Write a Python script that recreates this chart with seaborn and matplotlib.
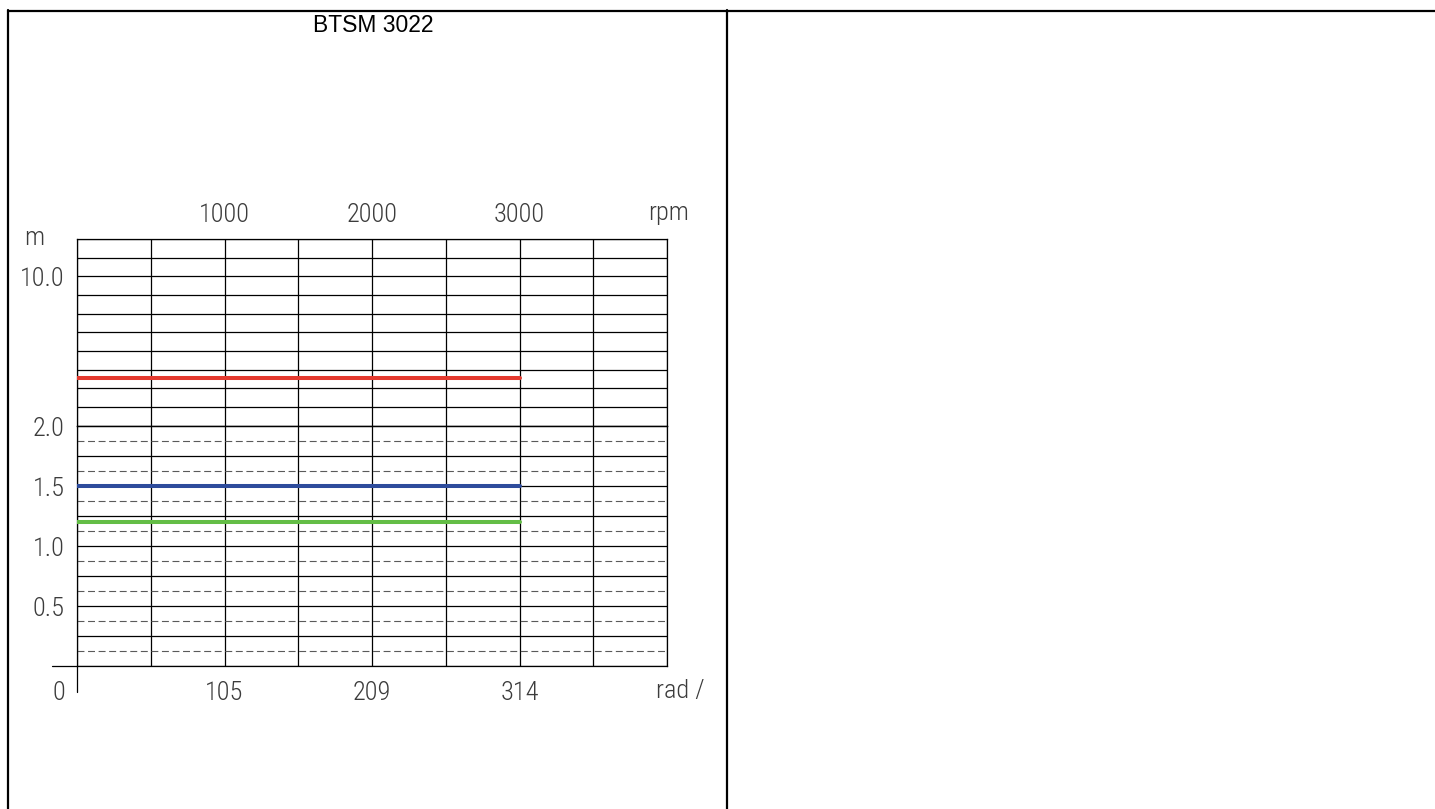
import matplotlib
matplotlib.use("Agg")
import matplotlib.pyplot as plt
from matplotlib.lines import Line2D
from matplotlib.ticker import MultipleLocator
import numpy as np
import pandas as pd
import seaborn as sns

# ---- data -------------------------------------------------------------
title = "BTSM 3022"
curve_names = ["peak", "rated", "continuous"]
curve_torque = [4.55, 1.5, 1.2]          # torque, N·m
curve_speed = [0, 3000]                  # speed range, rpm
rpm_ticks = [1000, 2000, 3000]
rpm_labels = ["1000", "2000", "3000"]
rad_labels = ["105", "209", "314"]
low_tick_vals = [0.5, 1.0, 1.5, 2.0]
low_tick_labels = ["0.5", "1.0", "1.5", "2.0"]
high_tick_vals = [10.0]
high_tick_labels = ["10.0"]

# ---- style ------------------------------------------------------------
W, H, DPI = 1435, 809, 100
curve_colors = {"peak": "#e4392e", "rated": "#2e4c9c", "continuous": "#63bd46"}
sns.set_style("white")
plt.rcParams["font.family"] = ["Liberation Sans", "DejaVu Sans"]
plt.rcParams["lines.scale_dashes"] = False
label_kw = dict(fontsize=19, color="#3c3c3c", fontweight="light",
                family=["Roboto Condensed", "DejaVu Sans Condensed", "Roboto"])

fig = plt.figure(figsize=(W / DPI, H / DPI), dpi=DPI)


def fx(px):
    return px / W


def fy(py):
    return 1 - py / H


# plot frame in pixels
x0, x1 = 77, 667
y_top, y_split, y_bot = 239, 425.7, 665.7

ax_hi = fig.add_axes([fx(x0), fy(y_split), fx(x1) - fx(x0), fy(y_top) - fy(y_split)])
ax_lo = fig.add_axes([fx(x0), fy(y_bot), fx(x1) - fx(x0), fy(y_split) - fy(y_bot)])

df = pd.DataFrame(
    [(n, s, t) for n, t in zip(curve_names, curve_torque) for s in curve_speed],
    columns=["curve", "speed", "torque"],
)

for ax in (ax_hi, ax_lo):
    ax.set_xlim(0, 4000)
    ax.xaxis.set_major_locator(MultipleLocator(500))
    ax.grid(True, axis="x", which="major", color="black", lw=0.9, ls="-")
    ax.tick_params(length=0, labelbottom=False, labelleft=False)
    for sp in ax.spines.values():
        sp.set_color("black")
        sp.set_linewidth(0.9)
    ax.set_axisbelow(True)
    sns.lineplot(data=df, x="speed", y="torque", hue="curve",
                 palette=curve_colors, lw=2.9, legend=False, ax=ax, zorder=5)
    ax.set_xlabel("")
    ax.set_ylabel("")

# upper band: 2 .. 12 in unit steps
ax_hi.set_ylim(2, 12)
ax_hi.yaxis.set_major_locator(MultipleLocator(1))
ax_hi.grid(True, axis="y", which="major", color="black", lw=0.9, ls="-")

# lower band: 0 .. 2 in quarter steps, dashed eighths
ax_lo.set_ylim(0, 2)
ax_lo.yaxis.set_major_locator(MultipleLocator(0.25))
ax_lo.yaxis.set_minor_locator(MultipleLocator(0.125))
ax_lo.grid(True, axis="y", which="major", color="black", lw=0.9, ls="-")
ax_lo.grid(True, axis="y", which="minor", color="#5a5a5a", lw=0.8, ls=(0, (5, 2.6)))
ax_lo.tick_params(which="minor", length=0)

# axis cross at the origin
ax_lo.plot([-25 / 590, 0], [0, 0], transform=ax_lo.transAxes, color="black",
           lw=0.9, clip_on=False)
ax_lo.plot([0, 0], [0, -26 / 240], transform=ax_lo.transAxes, color="black",
           lw=0.9, clip_on=False)

# y labels
for v, t in zip(high_tick_vals, high_tick_labels):
    ax_hi.annotate(t, xy=(0, v), xycoords=("axes fraction", "data"),
                   xytext=(-12, -3), textcoords="offset pixels",
                   ha="right", va="center", **label_kw)
for v, t in zip(low_tick_vals, low_tick_labels):
    ax_lo.annotate(t, xy=(0, v), xycoords=("axes fraction", "data"),
                   xytext=(-12, -3), textcoords="offset pixels",
                   ha="right", va="center", **label_kw)
ax_hi.annotate("m", xy=(0, 1), xycoords="axes fraction", xytext=(-43, -6),
               textcoords="offset pixels", ha="center", va="baseline", **label_kw)

# speed labels, rpm on top, rad/s below
for v, t in zip(rpm_ticks, rpm_labels):
    ax_hi.annotate(t, xy=(v, 1), xycoords=("data", "axes fraction"),
                   xytext=(0, 17), textcoords="offset pixels",
                   ha="center", va="baseline", **label_kw)
ax_hi.annotate("rpm", xy=(1, 1), xycoords="axes fraction", xytext=(2, 19),
               textcoords="offset pixels", ha="center", va="baseline", **label_kw)
for v, t in zip(rpm_ticks, rad_labels):
    ax_lo.annotate(t, xy=(v, 0), xycoords=("data", "axes fraction"),
                   xytext=(0, -34), textcoords="offset pixels",
                   ha="center", va="baseline", **label_kw)
ax_lo.annotate("rad /", xy=(1, 0), xycoords="axes fraction", xytext=(13, -32),
               textcoords="offset pixels", ha="center", va="baseline", **label_kw)
ax_lo.annotate("0", xy=(0, 0), xycoords="axes fraction", xytext=(-18, -34),
               textcoords="offset pixels", ha="center", va="baseline", **label_kw)

# title
fig.text(fx(373.5), fy(31.5), title, ha="center", va="baseline",
         fontsize=16.5, color="black")

# table frame
frame_kw = dict(color="black", lw=1.6, transform=fig.transFigure)
fig.add_artist(Line2D([fx(7.5), 1], [fy(11), fy(11)], **frame_kw))
fig.add_artist(Line2D([fx(8.3), fx(8.3)], [fy(10), 0], **frame_kw))
fig.add_artist(Line2D([fx(726.7), fx(726.7)], [fy(10), 0], **frame_kw))

fig.savefig("out.png", dpi=DPI)
